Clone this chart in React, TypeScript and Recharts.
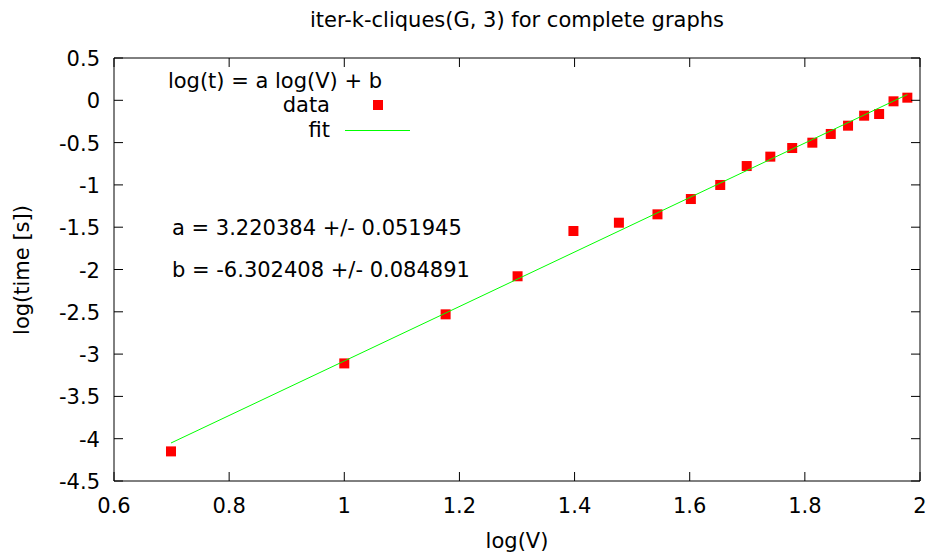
import React from "react";
import { ComposedChart, XAxis, YAxis, Scatter, ReferenceArea } from "recharts";

const logV = [0.699, 1.0, 1.176, 1.301, 1.398, 1.477, 1.544, 1.602, 1.653, 1.699, 1.740, 1.778, 1.813, 1.845, 1.875, 1.903, 1.929, 1.954, 1.978];
const logT = [-4.15, -3.11, -2.53, -2.08, -1.545, -1.447, -1.348, -1.167, -1.001, -0.777, -0.666, -0.564, -0.501, -0.398, -0.300, -0.182, -0.162, -0.012, 0.031];
const fitX = [0.699, 1.978];
const fitY = [-4.051, 0.068];
const xTicks = [0.6, 0.8, 1, 1.2, 1.4, 1.6, 1.8, 2];
const yTicks = [0.5, 0, -0.5, -1, -1.5, -2, -2.5, -3, -3.5, -4, -4.5];

const TITLE = "iter-k-cliques(G, 3) for complete graphs";
const X_LABEL = "log(V)";
const Y_LABEL = "log(time [s])";
const LEGEND_TITLE = "log(t) = a log(V) + b";
const LEGEND_DATA = "data";
const LEGEND_FIT = "fit";
const ANNOT_A = "a = 3.220384 +/- 0.051945";
const ANNOT_B = "b = -6.302408 +/- 0.084891";

const dataPoints = logV.map((x, i) => ({ x, y: logT[i] }));
const fitPoints = fitX.map((x, i) => ({ x, y: fitY[i] }));

const W = 931;
const H = 556;
const PLOT_LEFT = 114;
const PLOT_TOP = 58;
const PLOT_RIGHT = 920;
const PLOT_BOTTOM = 481;
const TICK = 9;
const FONT = "'DejaVu Sans', sans-serif";
const FS = 21;

const XTick = (props: any) => {
  const { x, payload } = props;
  return (
    <g>
      <line x1={x} x2={x} y1={PLOT_BOTTOM} y2={PLOT_BOTTOM - TICK} stroke="#000" strokeWidth={1} />
      <line x1={x} x2={x} y1={PLOT_TOP} y2={PLOT_TOP + TICK} stroke="#000" strokeWidth={1} />
      <text x={x} y={PLOT_BOTTOM + 25} textAnchor="middle" dominantBaseline="central" fontFamily={FONT} fontSize={FS} fill="#000">
        {String(payload.value)}
      </text>
    </g>
  );
};

const YTick = (props: any) => {
  const { y, payload } = props;
  return (
    <g>
      <line x1={PLOT_LEFT} x2={PLOT_LEFT + TICK} y1={y} y2={y} stroke="#000" strokeWidth={1} />
      <line x1={PLOT_RIGHT} x2={PLOT_RIGHT - TICK} y1={y} y2={y} stroke="#000" strokeWidth={1} />
      <text x={PLOT_LEFT - 14} y={y + 1} textAnchor="end" dominantBaseline="central" fontFamily={FONT} fontSize={FS} fill="#000">
        {String(payload.value)}
      </text>
    </g>
  );
};

const Square = (props: any) => {
  const { cx, cy } = props;
  if (cx == null || cy == null) return <g />;
  return <rect x={cx - 5} y={cy - 5} width={10} height={10} fill="#ff0000" />;
};

const Empty = () => <g />;

const txt = (extra: React.CSSProperties): React.CSSProperties => ({
  position: "absolute",
  fontFamily: FONT,
  fontSize: FS,
  lineHeight: 1,
  whiteSpace: "nowrap",
  color: "#000",
  ...extra,
});

export default function App() {
  return (
    <div style={{ position: "absolute", left: 0, top: 0, width: W, height: H, background: "#fff" }}>
      <ComposedChart
        width={W}
        height={H}
        margin={{ top: PLOT_TOP, right: W - PLOT_RIGHT, bottom: 0, left: 0 }}
      >
        <XAxis
          type="number"
          dataKey="x"
          domain={[0.6, 2]}
          ticks={xTicks}
          height={H - PLOT_BOTTOM}
          axisLine={false}
          tickLine={false}
          tick={<XTick />}
          allowDataOverflow
          interval={0}
        />
        <YAxis
          type="number"
          dataKey="y"
          domain={[-4.5, 0.5]}
          ticks={yTicks}
          width={PLOT_LEFT}
          axisLine={false}
          tickLine={false}
          tick={<YTick />}
          allowDataOverflow
          interval={0}
        />
        <ReferenceArea x1={0.6} x2={2} y1={-4.5} y2={0.5} fill="none" stroke="#000" strokeWidth={1} />
        <Scatter data={dataPoints} dataKey="y" shape={<Square />} isAnimationActive={false} />
        <Scatter
          data={fitPoints}
          dataKey="y"
          shape={<Empty />}
          line={{ stroke: "#00ff00", strokeWidth: 1 }}
          isAnimationActive={false}
        />
      </ComposedChart>

      <div style={txt({ left: (PLOT_LEFT + PLOT_RIGHT) / 2, top: 20, transform: "translate(-50%, -50%)" })}>{TITLE}</div>
      <div style={txt({ left: (PLOT_LEFT + PLOT_RIGHT) / 2, top: 541, transform: "translate(-50%, -50%)" })}>{X_LABEL}</div>
      <div style={txt({ left: 22, top: (PLOT_TOP + PLOT_BOTTOM) / 2, transform: "translate(-50%, -50%) rotate(-90deg)" })}>{Y_LABEL}</div>

      <div style={txt({ left: 275, top: 81, transform: "translate(-50%, -50%)" })}>{LEGEND_TITLE}</div>
      <div style={txt({ right: W - 330, top: 105, transform: "translateY(-50%)" })}>{LEGEND_DATA}</div>
      <div style={{ position: "absolute", left: 373, top: 100, width: 10, height: 10, background: "#ff0000" }} />
      <div style={txt({ right: W - 330, top: 130, transform: "translateY(-50%)" })}>{LEGEND_FIT}</div>
      <div style={{ position: "absolute", left: 345, top: 129.5, width: 65, height: 1, background: "#00ff00" }} />

      <div style={txt({ left: 172, top: 228, transform: "translateY(-50%)" })}>{ANNOT_A}</div>
      <div style={txt({ left: 172, top: 270, transform: "translateY(-50%)" })}>{ANNOT_B}</div>
    </div>
  );
}
